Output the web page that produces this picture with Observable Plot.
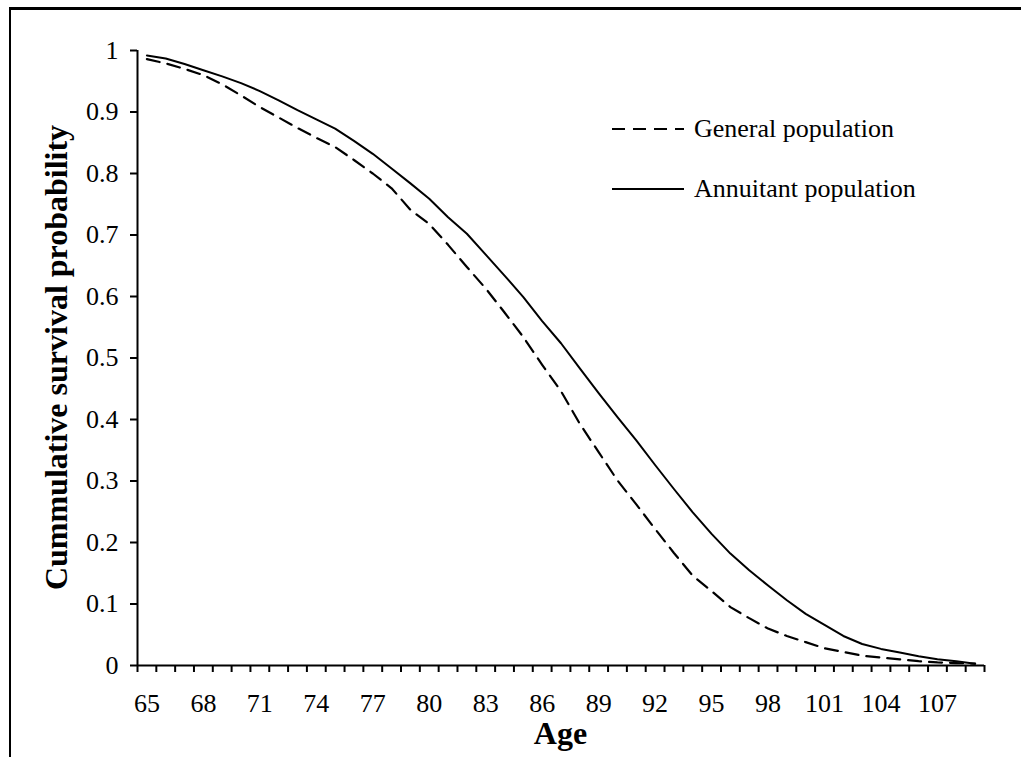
<!DOCTYPE html>
<html>
<head>
<meta charset="utf-8">
<script src="https://cdn.jsdelivr.net/npm/d3@7"></script>
<script src="https://cdn.jsdelivr.net/npm/@observablehq/plot@0.6"></script>
<style>
  html, body { margin: 0; padding: 0; background: #fff; }
  #wrap { position: relative; width: 1021px; height: 757px; overflow: hidden; font-family: "Liberation Serif", "Times New Roman", serif; }
  #border { position: absolute; left: 9px; top: 7px; width: 1100px; height: 900px; border-left: 2px solid #000; border-top: 3px solid #000; box-sizing: border-box; }
  #chart { position: absolute; left: 0; top: 0; }
  .leg { position: absolute; display: flex; align-items: center; font-size: 26px; color: #000; }
  .leg svg { margin-right: 10px; }
</style>
</head>
<body>
<div id="wrap">
  <div id="border"></div>
  <div id="chart"></div>
  <div class="leg" style="left:612px; top:114px;">
    <svg width="72" height="6"><line x1="0" y1="3" x2="72" y2="3" stroke="#000" stroke-width="2" stroke-dasharray="13,8"/></svg>
    <span>General population</span>
  </div>
  <div class="leg" style="left:612px; top:174px;">
    <svg width="72" height="6"><line x1="0" y1="3" x2="72" y2="3" stroke="#000" stroke-width="2"/></svg>
    <span>Annuitant population</span>
  </div>
</div>
<script>
const ages = d3.range(65, 110);
const generalPopulation = [
  0.986, 0.979, 0.970, 0.960, 0.945, 0.927, 0.908, 0.891, 0.874, 0.858,
  0.843, 0.822, 0.800, 0.776, 0.741, 0.718, 0.684, 0.648, 0.613, 0.574,
  0.534, 0.489, 0.446, 0.393, 0.347, 0.301, 0.262, 0.222, 0.183, 0.146,
  0.121, 0.095, 0.077, 0.060, 0.048, 0.038, 0.028, 0.022, 0.016, 0.013,
  0.010, 0.007, 0.005, 0.004, 0.003
];
const annuitantPopulation = [
  0.992, 0.987, 0.978, 0.968, 0.958, 0.947, 0.934, 0.919, 0.903, 0.888,
  0.873, 0.853, 0.832, 0.808, 0.784, 0.759, 0.729, 0.702, 0.668, 0.634,
  0.599, 0.560, 0.524, 0.483, 0.443, 0.404, 0.366, 0.326, 0.287, 0.249,
  0.214, 0.182, 0.155, 0.130, 0.106, 0.084, 0.066, 0.048, 0.035, 0.027,
  0.021, 0.015, 0.010, 0.007, 0.003
];
const xTickLabels = [65, 68, 71, 74, 77, 80, 83, 86, 89, 92, 95, 98, 101, 104, 107];
const yTicks = [0, 0.1, 0.2, 0.3, 0.4, 0.5, 0.6, 0.7, 0.8, 0.9, 1];

const general = ages.map((a, i) => ({age: a, value: generalPopulation[i]}));
const annuitant = ages.map((a, i) => ({age: a, value: annuitantPopulation[i]}));
const boundaries = ages.map(a => a - 0.5).concat([ages[ages.length - 1] + 0.5]);
const xMin = boundaries[0], xMax = boundaries[boundaries.length - 1];

const chart = Plot.plot({
  width: 1021,
  height: 757,
  marginLeft: 137,
  marginRight: 37,
  marginTop: 50,
  marginBottom: 92,
  style: {fontFamily: "'Liberation Serif', 'Times New Roman', serif", color: "#000", background: "transparent"},
  x: {domain: [xMin, xMax]},
  y: {domain: [0, 1]},
  marks: [
    Plot.axisX({ticks: boundaries, tickSize: 7, strokeWidth: 2, text: null, label: null}),
    Plot.axisX({ticks: xTickLabels, tickSize: 0, tickPadding: 28, fontSize: 26, label: null, tickFormat: d => String(d)}),
    Plot.axisY({ticks: yTicks, tickSize: 7, strokeWidth: 2, tickPadding: 12, fontSize: 26, label: null, tickFormat: d => String(+d.toFixed(1))}),
    Plot.ruleY([0], {strokeWidth: 2}),
    Plot.ruleX([xMin], {strokeWidth: 2}),
    Plot.line(general, {x: "age", y: "value", stroke: "#000", strokeWidth: 2.2, strokeDasharray: "13,8"}),
    Plot.line(annuitant, {x: "age", y: "value", stroke: "#000", strokeWidth: 2})
  ]
});
document.getElementById("chart").appendChild(chart);

// axis titles as real SVG text
const svg = d3.select(chart);
svg.append("text")
  .attr("x", (137 + 984) / 2).attr("y", 744)
  .attr("text-anchor", "middle")
  .attr("font-size", 32).attr("font-weight", "bold")
  .attr("font-family", "'Liberation Serif', 'Times New Roman', serif")
  .text("Age");
svg.append("text")
  .attr("transform", "translate(67," + (50 + 665) / 2 + ") rotate(-90)")
  .attr("text-anchor", "middle")
  .attr("font-size", 32).attr("font-weight", "bold")
  .attr("font-family", "'Liberation Serif', 'Times New Roman', serif")
  .text("Cummulative survival probability");
</script>
</body>
</html>
